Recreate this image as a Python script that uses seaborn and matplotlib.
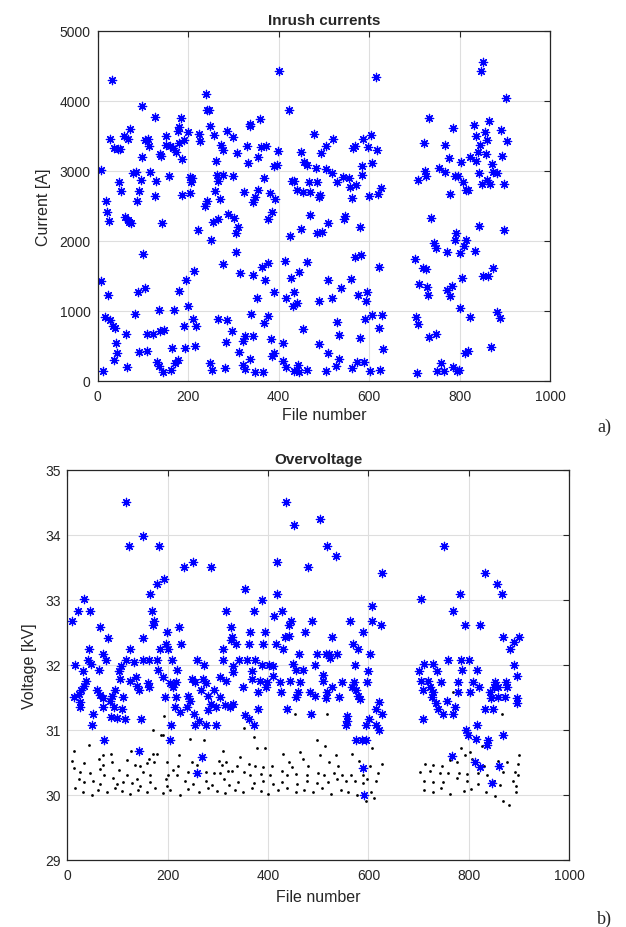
"""
Inrush currents and overvoltage scatter per recorded file.
Two stacked panels, MATLAB-like look, drawn with seaborn.
"""

import matplotlib

matplotlib.use("Agg")
import matplotlib.pyplot as plt
import pandas as pd
import seaborn as sns

# ---- panel a) inrush currents [A] per file number ----
inrush_file = [
    31, 400, 240, 243, 247, 98, 128, 424, 184, 358, 338, 336, 71, 249, 181, 200,
    286, 27, 59, 68, 105, 112, 152, 177, 257, 224, 227, 299, 192, 181, 273, 277,
    478, 113, 151, 160, 166, 173, 36, 46, 50, 98, 137, 140, 331, 361, 372, 308,
    399, 450, 506, 494, 186, 261, 354, 457, 464, 482, 332, 389, 397, 506, 8, 78,
    85, 116, 158, 204, 208, 207, 264, 267, 277, 300, 368, 430, 435, 467, 486, 48,
    95, 130, 51, 92, 126, 187, 204, 260, 270, 324, 355, 381, 348, 344, 393, 440,
    453, 470, 492, 489, 19, 87, 241, 237,
    22, 26, 61, 67, 70, 75, 143, 267, 256, 289, 302, 310, 305, 222, 251, 386,
    376, 469, 450, 425, 484, 497, 509, 101, 306, 278, 214, 196, 315, 343, 363, 376,
    370, 414, 464, 446, 428, 509, 8, 23, 90, 105, 179, 389, 352, 434, 417, 440,
    433, 490, 136, 168, 199, 83, 17, 28, 34, 39, 212, 218, 191, 266, 287, 340,
    377, 367, 297, 453, 63, 110, 123, 138, 147, 326, 344, 321, 383, 284, 41, 216,
    165, 194, 411, 489, 509, 92, 109, 44, 313, 390, 385, 37, 177, 171, 132, 136,
    336, 409, 66, 249, 281, 322, 327, 417, 444, 11, 144, 162, 254, 349, 365, 434,
    445, 462, 504,
    853, 848, 615, 902, 733, 786, 832, 866, 892, 856, 836, 861, 904, 520, 587, 604,
    569, 565, 597, 617, 721, 769, 846, 841, 858, 895, 776, 804, 823, 837, 606, 585,
    872, 518, 584, 755, 723, 725, 768, 791, 796, 844, 875, 882, 529, 543, 556, 708,
    808, 861, 850, 868, 899, 557, 571, 626, 619, 600, 563, 780, 815, 819,
    546, 545, 579, 737, 792, 790, 814, 842, 898, 744, 747, 773, 801, 810, 834, 568,
    582, 621, 702, 720, 727, 560, 537, 576, 595, 593, 518, 806, 711, 729, 731, 772,
    783, 778, 853, 864, 875, 800, 823, 882, 890, 530, 591, 607, 629, 623, 704, 709,
    533, 580, 630, 733, 748, 534, 526, 562, 574, 590, 602, 625, 706, 758, 750, 766,
    785, 794, 798, 812, 818, 870,
]
inrush_current = [
    4305, 4429, 4100, 3877, 3870, 3924, 3777, 3872, 3762, 3743, 3672, 3638, 3605, 3648, 3634, 3562,
    3572, 3458, 3496, 3458, 3443, 3458, 3496, 3572, 3515, 3529, 3434, 3481, 3448, 3396, 3377, 3305,
    3529, 3353, 3367, 3353, 3324, 3277, 3329, 3315, 3315, 3205, 3248, 3220, 3362, 3348, 3353, 3258,
    3281, 3267, 3353, 3258, 3167, 3148, 3196, 3124, 3086, 3048, 3110, 3077, 3086, 3029, 3020, 2972,
    2991, 2991, 2924, 2910, 2896, 2838, 2943, 2862, 2943, 2924, 2896, 2862, 2862, 2838, 2838, 2838,
    2877, 2862, 2719, 2710, 2643, 2658, 2686, 2719, 2600, 2705, 2734, 2686, 2624, 2553, 2596, 2734,
    2705, 2696, 2662, 2624, 2567, 2572, 2572, 2496,
    2419, 2290, 2338, 2305, 2276, 2252, 2257, 2314, 2267, 2386, 2324, 2205, 2110, 2162, 2014, 2419,
    2314, 2376, 2171, 2067, 2114, 2124, 2257, 1814, 1838, 1671, 1567, 1443, 1538, 1514, 1624, 1686,
    1448, 1710, 1695, 1562, 1471, 1443, 1424, 1233, 1276, 1324, 1290, 1267, 1186, 1267, 1181, 1114,
    1076, 1143, 1014, 1014, 1067, 957, 919, 876, 790, 752, 886, 790, 781, 886, 876, 957,
    933, 829, 710, 743, 671, 671, 671, 714, 733, 638, 648, 576, 600, 552, 543, 505,
    471, 476, 538, 529, 400, 419, 429, 400, 419, 400, 362, 300, 300, 257, 267, 219,
    314, 281, 205, 252, 186, 229, 171, 205, 229, 148, 133, 152, 157, 124, 133, 138,
    124, 162, 138,
    4562, 4429, 4348, 4043, 3753, 3619, 3658, 3710, 3586, 3562, 3500, 3448, 3429, 3458, 3458, 3515,
    3362, 3329, 3348, 3305, 3396, 3377, 3372, 3277, 3248, 3215, 3181, 3134, 3205, 3143, 3119, 3067,
    3100, 2972, 2948, 3048, 3005, 2924, 2986, 2924, 2929, 2967, 2991, 2967, 2848, 2910, 2905, 2867,
    2843, 2877, 2819, 2819, 2810, 2767, 2796, 2762, 2677, 2643, 2615, 2677, 2734, 2734,
    2352, 2314, 2195, 2329, 2110, 2019, 2014, 2210, 2157, 1967, 1895, 1838, 1829, 1933, 1852, 1767,
    1800, 1624, 1743, 1619, 1600, 1457, 1324, 1233, 1267, 1148, 1181, 1467, 1381, 1348, 1233, 1305,
    1352, 1210, 1495, 1505, 1610, 1048, 919, 981, 895, 848, 886, 943, 943, 752, 919, 810,
    657, 610, 457, 633, 671, 314, 210, 181, 276, 267, 148, 162, 114, 262, 138, 138,
    205, 148, 162, 400, 424, 481,
]

# ---- panel b) overvoltage [kV], blue asterisks ----
ov_file = [
    117, 150, 123, 182, 232, 251, 287, 192, 178, 165, 33, 20, 45, 10, 168, 173,
    171, 65, 222, 316, 326,
    435, 452, 503, 517, 535, 417, 480, 628, 353, 387, 418, 371, 412, 428, 445, 442,
    488, 564, 608, 607, 626,
    750, 832, 857, 866, 782, 704, 769, 793, 823,
    80, 150, 199, 226, 42, 71, 77, 125, 196, 184, 201, 311, 327, 14, 40, 46,
    30, 63, 117, 106, 103, 133, 150, 163, 178, 208, 258, 272, 311, 181, 218, 331,
    105, 125, 137, 139, 143, 161, 163, 190, 204, 216, 211, 248, 254, 271, 276, 304,
    316, 37, 33, 26, 22, 12, 58, 65, 70, 95, 88, 111, 85, 93, 25, 24,
    70, 194, 216, 241, 244, 266, 281, 292, 304, 287, 297, 281, 214, 224, 238, 252,
    314, 325, 108, 50, 86, 98, 115, 48, 147, 206, 254, 276, 263, 297, 73, 204,
    143, 268, 259,
    364, 394, 434, 442, 474, 527, 590, 329, 337, 361, 389, 415, 430, 569, 580, 462,
    498, 515, 523, 538, 522, 604, 343, 357, 374, 331, 387, 402, 409, 367, 450, 456,
    469, 494, 509, 509, 573, 600, 367, 384, 397, 409, 424, 444, 464, 527, 547, 571,
    567, 575, 597, 349, 379, 396, 425, 456, 460, 484, 494, 518, 515, 542, 580, 583,
    331, 379, 438, 485, 354, 361, 372, 558, 557, 555, 622, 616, 628, 602, 595, 615,
    622, 575, 587, 595, 590, 592,
    868, 901, 890, 882, 759, 784, 801, 711, 729, 700, 737, 787, 816, 891, 896, 704,
    719, 744, 779, 808, 821, 852, 874, 708, 723, 729, 779, 803, 842, 850, 859, 876,
    726, 735, 756, 844, 859, 872, 897, 896, 739, 748, 773, 769, 832, 848, 708, 817,
    795, 799, 869, 815, 839, 837, 766, 813, 823, 861, 846,
]
ov_voltage = [
    34.50, 33.99, 33.83, 33.83, 33.50, 33.58, 33.50, 33.33, 33.25, 33.09, 33.01, 32.83, 32.83, 32.67, 32.83, 32.67,
    32.61, 32.59, 32.59, 32.83, 32.59,
    34.50, 34.16, 34.25, 33.83, 33.67, 33.58, 33.50, 33.41, 33.17, 33.00, 33.09, 32.83, 32.75, 32.83, 32.67, 32.61,
    32.67, 32.67, 32.91, 32.67, 32.61,
    33.83, 33.41, 33.25, 33.09, 33.09, 33.01, 32.83, 32.61, 32.61,
    32.42, 32.42, 32.50, 32.33, 32.24, 32.17, 32.08, 32.24, 32.32, 32.24, 32.24, 32.25, 32.39, 32.00, 32.07, 32.02,
    31.91, 31.93, 32.08, 31.99, 31.91, 32.04, 32.08, 32.08, 32.08, 32.08, 32.08, 32.00, 32.08, 31.93, 31.93, 31.89,
    31.78, 31.76, 31.81, 31.68, 31.62, 31.73, 31.66, 31.81, 31.73, 31.74, 31.66, 31.79, 31.74, 31.78, 31.72, 31.81,
    31.76, 31.76, 31.68, 31.62, 31.55, 31.50, 31.61, 31.54, 31.49, 31.61, 31.52, 31.50, 31.44, 31.36, 31.43, 31.35,
    31.35, 31.50, 31.50, 31.52, 31.45, 31.61, 31.52, 31.61, 31.50, 31.40, 31.36, 31.31, 31.35, 31.27, 31.35, 31.25,
    31.38, 31.36, 31.33, 31.25, 31.20, 31.18, 31.17, 31.08, 31.17, 31.08, 31.08, 31.08, 31.14, 31.08, 30.84, 30.84,
    30.67, 30.58, 30.34,
    32.50, 32.50, 32.43, 32.44, 32.50, 32.43, 32.50, 32.43, 32.32, 32.32, 32.32, 32.32, 32.25, 32.32, 32.24, 32.17,
    32.17, 32.17, 32.10, 32.17, 32.17, 32.17, 32.08, 32.08, 32.08, 31.99, 32.00, 32.00, 31.99, 31.91, 32.02, 31.93,
    31.93, 32.00, 31.84, 31.76, 32.00, 31.91, 31.79, 31.76, 31.74, 31.83, 31.74, 31.76, 31.74, 31.66, 31.74, 31.74,
    31.66, 31.61, 31.74, 31.66, 31.59, 31.66, 31.59, 31.50, 31.58, 31.59, 31.52, 31.59, 31.49, 31.50, 31.52, 31.48,
    31.40, 31.33, 31.33, 31.25, 31.23, 31.17, 31.08, 31.22, 31.14, 31.08, 31.43, 31.33, 31.25, 31.17, 31.08, 31.08,
    31.00, 30.84, 30.84, 30.84, 30.41, 30.00,
    32.43, 32.43, 32.35, 32.25, 32.08, 32.08, 32.08, 32.02, 32.02, 31.91, 31.91, 31.93, 31.93, 32.00, 31.83, 31.76,
    31.76, 31.74, 31.74, 31.74, 31.66, 31.74, 31.74, 31.61, 31.66, 31.58, 31.59, 31.59, 31.59, 31.66, 31.66, 31.66,
    31.50, 31.42, 31.44, 31.49, 31.50, 31.50, 31.49, 31.42, 31.33, 31.25, 31.35, 31.25, 31.33, 31.33, 31.17, 31.08,
    31.00, 30.92, 30.92, 30.86, 30.85, 30.77, 30.60, 30.50, 30.43, 30.44, 30.18,
]

# ---- panel b) black dots (lower voltage level) ----
dot_file = [
    192, 170, 186, 191, 42, 245, 272, 13, 71, 86, 126, 170, 179, 163, 172, 159,
    222, 311, 10, 33, 63, 70, 88, 118, 135, 145, 199, 221, 248, 258, 303, 309,
    317, 12, 25, 45, 65, 73, 103, 118, 150, 164, 211, 201, 219, 241, 277, 292,
    305, 321, 22, 32, 51, 65, 91, 98, 110, 139, 128, 164, 145, 196, 199, 234,
    251, 277, 288, 312, 323,
    454, 517, 352, 372, 377, 394, 498, 513, 608, 430, 464, 503, 535, 567, 344, 339,
    361, 374, 389, 407, 442, 447, 469, 480, 522, 540, 582, 603, 628, 329, 351, 364,
    385, 404, 427, 437, 456, 478, 500, 511, 531, 547, 565, 589, 620, 341, 372, 390,
    410, 427, 457, 478, 498, 520, 537, 555, 573, 590, 598, 616,
    769, 866, 784, 803, 793, 826, 901, 859, 877, 776, 762, 713, 729, 746, 806, 831,
    899, 703, 723, 743, 759, 781, 796, 819, 837, 869, 892, 899, 710, 729, 749, 776,
    796, 819, 850, 862, 889, 894,
    15, 30, 48, 60, 78, 95, 108, 125, 140, 158, 175, 190, 205, 225, 240, 262,
    280, 298, 315, 335, 350, 368, 385, 400, 420, 438, 455, 472, 490, 508, 525, 545,
    560, 578, 596, 605, 612, 710, 728, 745, 762, 790, 805, 835, 852, 868, 880, 895,
]
dot_voltage = [
    31.22, 31.00, 30.92, 30.92, 30.77, 30.86, 30.84, 30.67, 30.62, 30.63, 30.67, 30.63, 30.63, 30.55, 30.50, 30.49,
    30.61, 30.67, 30.53, 30.49, 30.56, 30.46, 30.50, 30.54, 30.46, 30.45, 30.51, 30.45, 30.50, 30.46, 30.53, 30.46,
    30.51, 30.41, 30.35, 30.34, 30.40, 30.31, 30.39, 30.31, 30.36, 30.31, 30.39, 30.31, 30.30, 30.35, 30.35, 30.34,
    30.34, 30.37, 30.25, 30.20, 30.21, 30.17, 30.26, 30.17, 30.20, 30.25, 30.19, 30.20, 30.14, 30.25, 30.14, 30.22,
    30.17, 30.21, 30.15, 30.25, 30.15,
    31.25, 31.25, 31.03, 30.89, 30.72, 30.72, 30.84, 30.75, 30.72, 30.63, 30.66, 30.61, 30.61, 30.63, 30.58, 30.45,
    30.48, 30.45, 30.43, 30.44, 30.50, 30.43, 30.55, 30.45, 30.50, 30.44, 30.53, 30.45, 30.48, 30.37, 30.35, 30.31,
    30.32, 30.31, 30.37, 30.31, 30.32, 30.30, 30.34, 30.30, 30.34, 30.30, 30.31, 30.30, 30.34, 30.20, 30.19, 30.22,
    30.17, 30.20, 30.17, 30.21, 30.19, 30.20, 30.25, 30.22, 30.21, 30.19, 30.25, 30.22,
    31.59, 31.25, 30.72, 30.66, 30.61, 30.75, 30.62, 30.53, 30.51, 30.51, 30.54, 30.48, 30.46, 30.45, 30.56, 30.45,
    30.48, 30.36, 30.37, 30.34, 30.34, 30.34, 30.32, 30.34, 30.31, 30.35, 30.36, 30.30, 30.21, 30.20, 30.20, 30.26,
    30.21, 30.17, 30.22, 30.15, 30.21, 30.14,
    30.10, 30.05, 30.00, 30.08, 30.04, 30.10, 30.06, 30.02, 30.08, 30.05, 30.10, 30.03, 30.07, 30.00, 30.09, 30.05,
    30.10, 30.06, 30.03, 30.08, 30.04, 30.10, 30.06, 30.02, 30.07, 30.10, 30.04, 30.08, 30.05, 30.10, 30.02, 30.07,
    30.05, 30.00, 29.90, 30.04, 29.95, 30.08, 30.04, 30.10, 30.02, 30.06, 30.09, 30.05, 29.98, 29.90, 29.85, 30.05,
]

file_ticks = [0, 200, 400, 600, 800, 1000]
current_ticks = [0, 1000, 2000, 3000, 4000, 5000]
voltage_ticks = [29, 30, 31, 32, 33, 34, 35]

ASTERISK = (8, 2, 0)
TEXT_GREY = "#262626"


def style_axes(ax, yticks):
    """MATLAB-ish box, inward ticks on every side and a light grid."""
    ax.set_xlim(file_ticks[0], file_ticks[-1])
    ax.set_ylim(yticks[0], yticks[-1])
    ax.set_xticks(file_ticks)
    ax.set_yticks(yticks)
    ax.grid(True, color="#dedede", linewidth=0.8)
    ax.set_axisbelow(True)
    ax.tick_params(
        direction="in", length=4, width=0.8, colors=TEXT_GREY,
        labelsize=10, top=True, right=True,
    )
    ax.tick_params(axis="x", pad=6)
    ax.tick_params(axis="y", pad=5)
    for side in ax.spines.values():
        side.set_visible(True)
        side.set_color(TEXT_GREY)
        side.set_linewidth(0.9)


def main():
    sns.set_style("white")
    plt.rcParams["font.family"] = ["Liberation Sans", "DejaVu Sans"]

    fig = plt.figure(figsize=(6.26, 9.28), dpi=100)
    ax_a = fig.add_axes([0.1558, 0.5884, 0.7228, 0.3772])
    ax_b = fig.add_axes([0.1078, 0.0722, 0.8011, 0.4203])

    df_a = pd.DataFrame({"file": inrush_file, "current": inrush_current})
    sns.scatterplot(
        data=df_a, x="file", y="current", ax=ax_a,
        marker=ASTERISK, color="blue", s=36, linewidth=0.9,
    )
    style_axes(ax_a, current_ticks)
    ax_a.set_title("Inrush currents", fontsize=11, fontweight="bold", pad=5)
    ax_a.set_xlabel("File number", fontsize=11.5, color=TEXT_GREY, labelpad=3)
    ax_a.set_ylabel("Current [A]", fontsize=11.5, color=TEXT_GREY, labelpad=6)

    df_dots = pd.DataFrame({"file": dot_file, "voltage": dot_voltage})
    sns.scatterplot(
        data=df_dots, x="file", y="voltage", ax=ax_b,
        marker="o", color="black", s=4, linewidth=0,
    )
    df_b = pd.DataFrame({"file": ov_file, "voltage": ov_voltage})
    sns.scatterplot(
        data=df_b, x="file", y="voltage", ax=ax_b,
        marker=ASTERISK, color="blue", s=36, linewidth=0.9,
    )
    style_axes(ax_b, voltage_ticks)
    ax_b.set_title("Overvoltage", fontsize=11, fontweight="bold", pad=5)
    ax_b.set_xlabel("File number", fontsize=11.5, color=TEXT_GREY, labelpad=5)
    ax_b.set_ylabel("Voltage [kV]", fontsize=11.5, color=TEXT_GREY, labelpad=6)

    fig.text(0.965, 0.535, "a)", fontsize=13, family="Liberation Serif", ha="center")
    fig.text(0.965, 0.004, "b)", fontsize=13, family="Liberation Serif", ha="center")

    fig.savefig("out.png", dpi=100)


if __name__ == "__main__":
    main()
